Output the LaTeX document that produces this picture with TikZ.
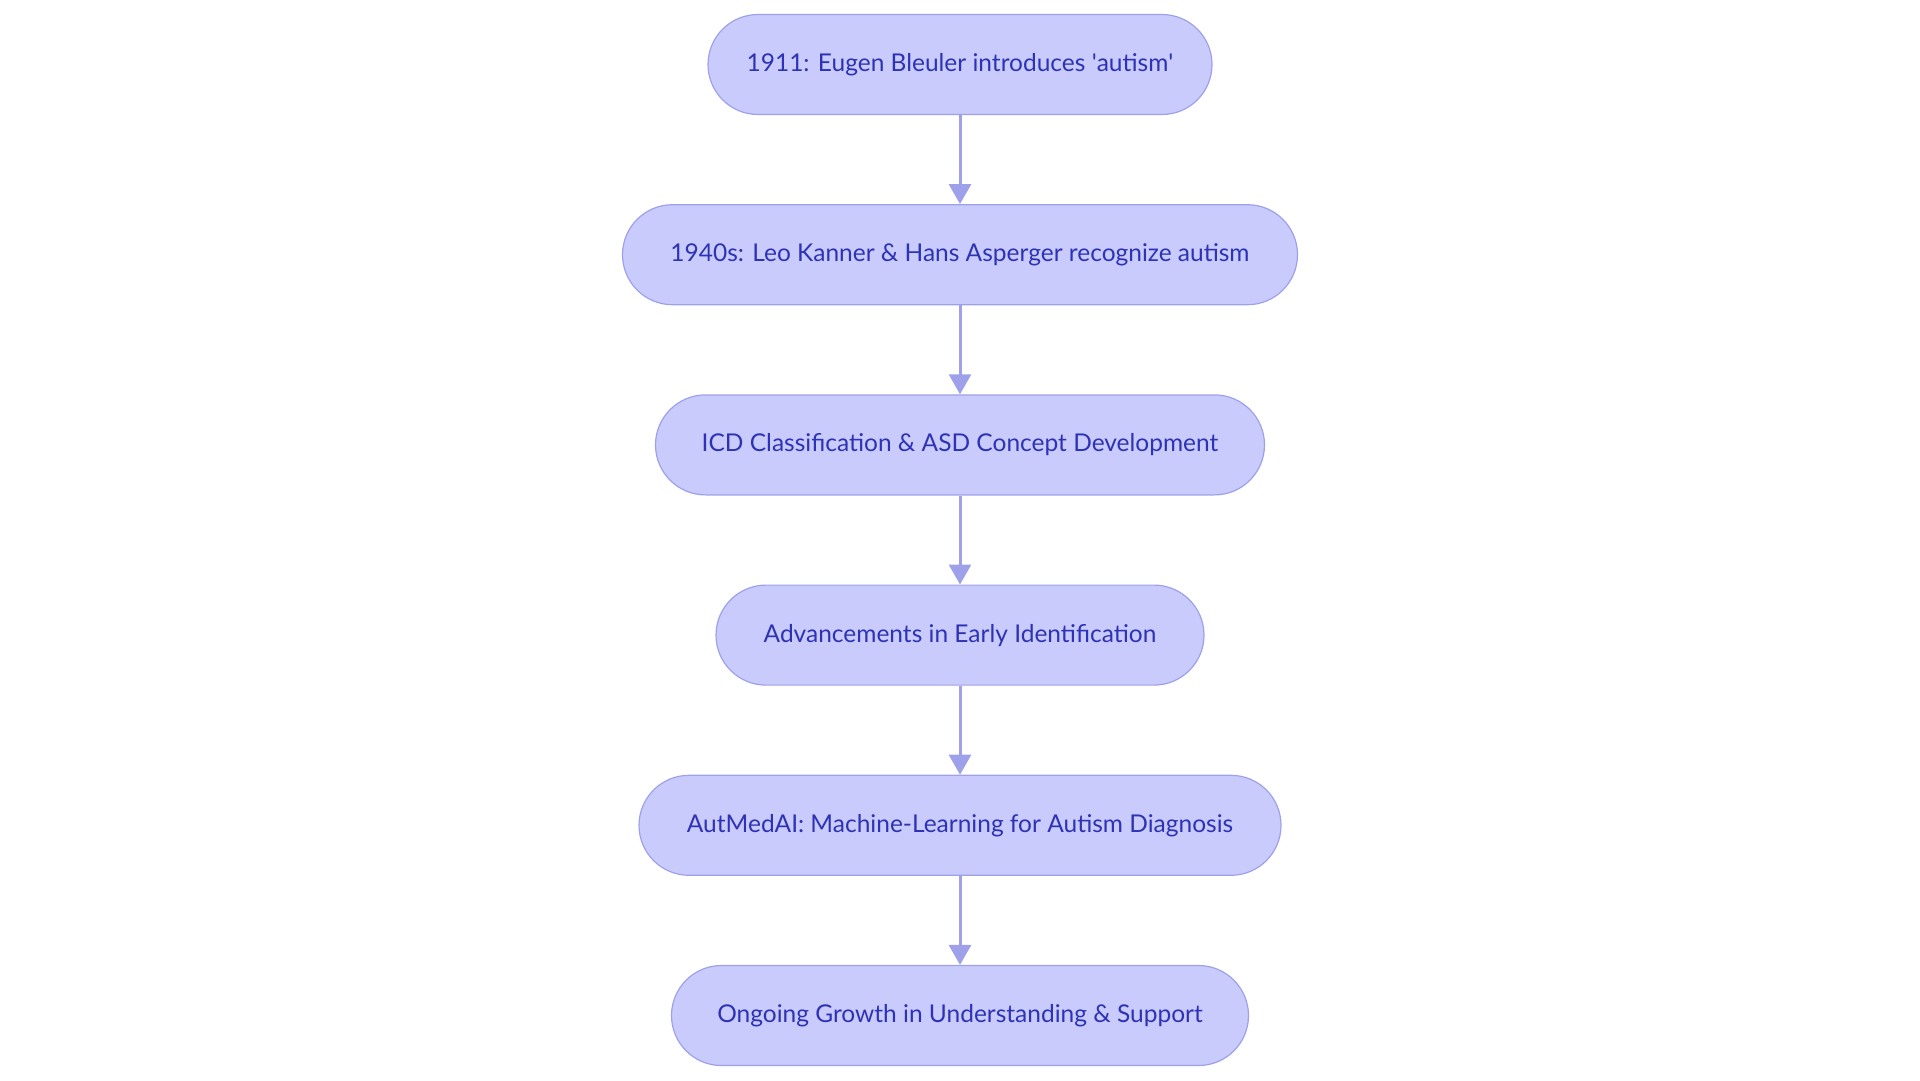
\documentclass[tikz,border=0pt]{standalone}
\usepackage{fontspec}
\setmainfont{Lato}
\usetikzlibrary{positioning, arrows.meta}
\definecolor{fillc}{HTML}{C9CBFC}
\definecolor{linec}{HTML}{9EA1EA}
\definecolor{textc}{HTML}{2E33B5}

\begin{document}
\begin{tikzpicture}[x=1pt, y=1pt, font=\fontsize{24.5}{28}\selectfont,
    stage/.style={draw=linec, line width=1.2pt, fill=fillc, text=textc,
      rounded corners=50pt, minimum height=100pt, minimum width=#1},
    stage/.default=500pt,
    flow/.style={draw=linec, line width=3pt,
      -{Triangle[length=20pt, width=22pt]}}]
    \useasboundingbox (0,0) rectangle (1920,-1080);
    % timeline, top to bottom
    \node[stage=504pt] (bleuler) at (960,-64.5) {1911: Eugen Bleuler introduces \textquotesingle autism\textquotesingle};
    \node[stage=675pt, below=89pt of bleuler] (kanner) {1940s: Leo Kanner \& Hans Asperger recognize autism};
    \node[stage=609pt, below=89pt of kanner] (icd) {ICD Classification \& ASD Concept Development};
    \node[stage=488pt, below=89pt of icd] (early) {Advancements in Early Identification};
    \node[stage=642pt, below=89pt of early] (autmed) {AutMedAI: Machine-Learning for Autism Diagnosis};
    \node[stage=577pt, below=89pt of autmed] (growth) {Ongoing Growth in Understanding \& Support};
    \foreach \a/\b in {bleuler/kanner, kanner/icd, icd/early, early/autmed, autmed/growth}
      \draw[flow] (\a) -- (\b);
  \end{tikzpicture}
\end{document}
